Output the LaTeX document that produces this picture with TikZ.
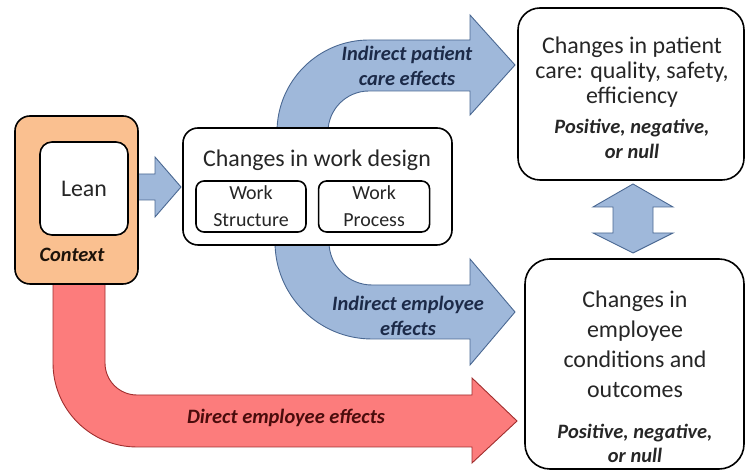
\documentclass[tikz,border=0pt]{standalone}
\usepackage{fontspec}
\setmainfont{Carlito}
\usetikzlibrary{positioning}
\definecolor{peach}{HTML}{FAC090}
\definecolor{arrowblue}{HTML}{9FB8DA}
\definecolor{arrowblueline}{HTML}{4A6892}
\definecolor{arrowred}{HTML}{FC7C7C}
\definecolor{arrowredline}{HTML}{A02E2E}
\definecolor{navytext}{HTML}{1C2A48}
\definecolor{redtext}{HTML}{4A0C0C}

\begin{document}
\begin{tikzpicture}[x=1bp, y=1bp,
  box/.style={draw=black, line width=1.6bp, rounded corners=#1, fill=white, inner sep=0pt},
  box/.default=15bp,
  blockblue/.style={fill=arrowblue, draw=arrowblueline, line width=0.9bp},
  blockred/.style={fill=arrowred, draw=arrowredline, line width=0.9bp},
  maintext/.style={text=black!85, align=center, font=\fontsize{24}{25}\selectfont},
  subtext/.style={text=black!85, align=center, font=\fontsize{20}{27}\selectfont},
  effect/.style={align=center, font=\fontsize{20.5}{25}\selectfont\bfseries\itshape}]

\useasboundingbox (0,0) rectangle (746,470);

\draw[blockblue] (277,335) -- (277,338) arc[start angle=180, end angle=90, radius=92bp] -- (470,430) -- (470,455) -- (515,405) -- (470,355) -- (470,379) -- (369,379) arc[start angle=90, end angle=180, radius=41bp] -- (328,335) -- cycle;
\draw[blockblue] (275,235) -- (275,228) arc[start angle=180, end angle=270, radius=97bp] -- (470,131) -- (470,105) -- (515,158) -- (470,211) -- (470,185) -- (372,185) arc[start angle=270, end angle=180, radius=43bp] -- (329,235) -- cycle;
\draw[blockred] (53,195) -- (53,107) arc[start angle=180, end angle=270, radius=84bp] -- (472,23) -- (472,7) -- (517,49) -- (472,92) -- (472,75) -- (137,75) arc[start angle=270, end angle=180, radius=32bp] -- (105,195) -- cycle;
\draw[blockblue] (130,296) -- (155,296) -- (155,313) -- (181,283) -- (155,253) -- (155,270) -- (130,270) -- cycle;
\draw[blockblue] (633,286) -- (673,263) -- (653,263) -- (653,237) -- (673,237) -- (633,217) -- (593,237) -- (613,237) -- (613,263) -- (593,263) -- cycle;

\node[box, fill=peach, minimum width=123bp, minimum height=168bp] (context) at (76.5,270) {};
\node[box=12bp, minimum width=88bp, minimum height=93bp, maintext] (lean) at (84,281.5) {Lean};
\node[effect, text=black!85!brown] (contexttxt) at (72,215) {Context};

\node[box, minimum width=269bp, minimum height=117bp] (design) at (317.5,283.5) {};
\node[maintext] (designtxt) at (317,310) {Changes in work design};
\node[box=8bp, minimum width=110bp, minimum height=51bp, subtext] (structure) at (251,263.5) {Work\\Structure};
\node[box=8bp, minimum width=111bp, minimum height=51bp, subtext, right=11bp of structure] (process) {Work\\Process};

\node[box=22bp, minimum width=226bp, minimum height=172bp] (care) at (631,376) {};
\node[maintext] (caretxt) at (632,398) {Changes in patient\\care: quality, safety,\\efficiency};
\node[effect, text=black!85] (carenote) at (632,331) {Positive, negative,\\or null};

\node[box=25bp, minimum width=219bp, minimum height=210bp] (employee) at (634.5,106) {};
\node[maintext, font=\fontsize{24}{30}\selectfont] (employeetxt) at (635,126) {Changes in\\employee\\conditions and\\outcomes};
\node[effect, text=black!85, font=\fontsize{20.5}{24}\selectfont\bfseries\itshape] (employeenote) at (635,27) {Positive, negative,\\or null};

\node[effect, text=navytext] (caretag) at (407,404.5) {Indirect patient\\care effects};
\node[effect, text=navytext] (employeetag) at (408,154.5) {Indirect employee\\effects};
\node[effect, text=redtext] (directtag) at (286,52) {Direct employee effects};

\end{tikzpicture}
\end{document}
